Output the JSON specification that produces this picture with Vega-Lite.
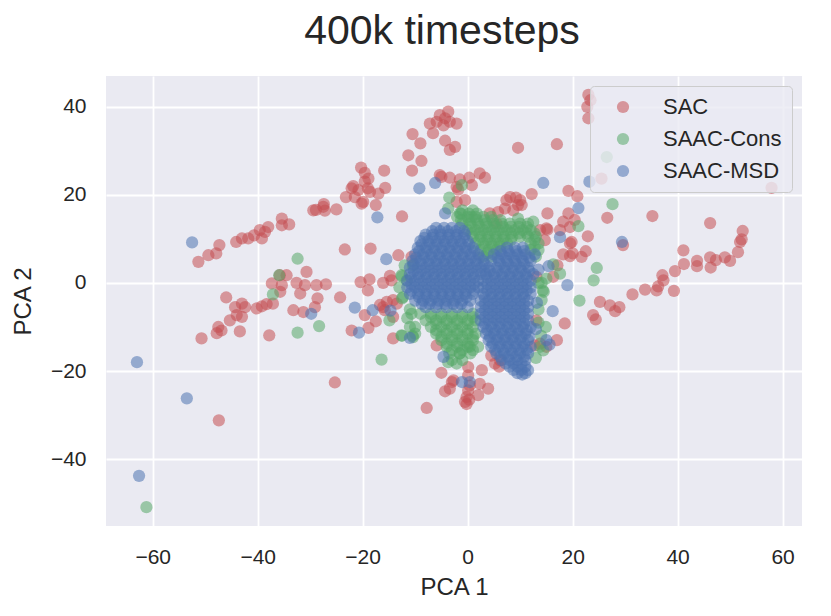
{
"$schema": "https://vega.github.io/schema/vega-lite/v6.json",
"width": 696, "height": 450,
"autosize": {"type": "none"},
"padding": {"left": 106, "top": 76, "right": 29, "bottom": 90},
"background": "white",
"title": {"text": "400k timesteps", "fontSize": 41, "font": "Liberation Sans", "fontWeight": "normal", "color": "#262626", "anchor": "middle", "dx": -12, "offset": 23},
"data": {"values": [
{"g":"SAC","x":-51.3,"y":4.8},{"g":"SAC","x":-49.4,"y":6.3},{"g":"SAC","x":-47.9,"y":6.7},{"g":"SAC","x":-47.3,"y":8.6},{"g":"SAC","x":-44.1,"y":9.3},{"g":"SAC","x":-43.0,"y":10.1},{"g":"SAC","x":-41.8,"y":10.1},{"g":"SAC","x":-40.7,"y":10.8},{"g":"SAC","x":-39.6,"y":12.0},{"g":"SAC","x":-39.2,"y":10.1},{"g":"SAC","x":-38.6,"y":11.6},{"g":"SAC","x":-38.0,"y":12.7},{"g":"SAC","x":-35.4,"y":14.6},{"g":"SAC","x":-35.4,"y":13.1},{"g":"SAC","x":-34.0,"y":13.3},{"g":"SAC","x":-29.4,"y":16.5},{"g":"SAC","x":-27.5,"y":17.3},{"g":"SAC","x":-27.2,"y":16.4},{"g":"SAC","x":-27.4,"y":17.9},{"g":"SAC","x":-25.0,"y":16.7},{"g":"SAC","x":-28.9,"y":16.6},
{"g":"SAC","x":-23.4,"y":7.6},{"g":"SAC","x":-18.5,"y":7.8},{"g":"SAC","x":-20.3,"y":26.2},{"g":"SAC","x":-19.6,"y":25.0},{"g":"SAC","x":-18.9,"y":23.7},{"g":"SAC","x":-15.9,"y":25.5},{"g":"SAC","x":-15.7,"y":21.6},{"g":"SAC","x":-22.1,"y":21.5},{"g":"SAC","x":-20.8,"y":21.1},{"g":"SAC","x":-23.2,"y":19.5},{"g":"SAC","x":-21.5,"y":19.5},{"g":"SAC","x":-19.9,"y":18.4},{"g":"SAC","x":-18.6,"y":20.7},{"g":"SAC","x":-17.0,"y":20.3},{"g":"SAC","x":-17.5,"y":17.7},{"g":"SAC","x":-21.8,"y":22.0},{"g":"SAC","x":-19.6,"y":23.0},{"g":"SAC","x":-20.2,"y":18.0},{"g":"SAC","x":-19.0,"y":21.5},{"g":"SAC","x":-12.5,"y":15.1},
{"g":"SAC","x":-5.3,"y":38.1},{"g":"SAC","x":-3.7,"y":38.9},{"g":"SAC","x":-7.2,"y":36.2},{"g":"SAC","x":-5.9,"y":36.6},{"g":"SAC","x":-4.6,"y":35.8},{"g":"SAC","x":-3.4,"y":36.6},{"g":"SAC","x":-2.1,"y":36.2},{"g":"SAC","x":-4.3,"y":37.4},{"g":"SAC","x":-6.6,"y":34.0},{"g":"SAC","x":-10.5,"y":33.8},{"g":"SAC","x":-9.0,"y":31.7},{"g":"SAC","x":-4.3,"y":32.3},{"g":"SAC","x":-2.4,"y":30.9},{"g":"SAC","x":-3.4,"y":30.2},{"g":"SAC","x":-11.3,"y":29.0},{"g":"SAC","x":-8.8,"y":27.7},{"g":"SAC","x":-10.6,"y":25.5},{"g":"SAC","x":-5.3,"y":24.5},{"g":"SAC","x":-3.4,"y":23.9},{"g":"SAC","x":-1.5,"y":23.5},{"g":"SAC","x":0.3,"y":23.9},{"g":"SAC","x":2.3,"y":24.9},{"g":"SAC","x":3.3,"y":23.9},{"g":"SAC","x":-1.8,"y":21.2},{"g":"SAC","x":0.8,"y":22.2},{"g":"SAC","x":-2.1,"y":18.4},{"g":"SAC","x":-0.5,"y":18.8},{"g":"SAC","x":9.6,"y":30.7},{"g":"SAC","x":17.0,"y":31.5},{"g":"SAC","x":-5.0,"y":24.1},{"g":"SAC","x":-2.1,"y":21.8},
{"g":"SAC","x":23.0,"y":42.7},{"g":"SAC","x":23.4,"y":41.5},{"g":"SAC","x":22.8,"y":40.0},{"g":"SAC","x":23.0,"y":37.4},{"g":"SAC","x":25.5,"y":23.7},{"g":"SAC","x":57.9,"y":21.6},
{"g":"SAC","x":19.2,"y":20.9},{"g":"SAC","x":20.9,"y":19.7},{"g":"SAC","x":12.2,"y":20.2},{"g":"SAC","x":15.2,"y":15.8},{"g":"SAC","x":19.2,"y":15.8},{"g":"SAC","x":20.4,"y":14.3},{"g":"SAC","x":18.2,"y":13.9},{"g":"SAC","x":17.6,"y":12.0},{"g":"SAC","x":19.5,"y":12.7},{"g":"SAC","x":15.2,"y":12.1},{"g":"SAC","x":19.8,"y":9.3},{"g":"SAC","x":22.9,"y":10.6},{"g":"SAC","x":18.2,"y":6.5},{"g":"SAC","x":19.5,"y":6.1},{"g":"SAC","x":21.7,"y":5.9},{"g":"SAC","x":22.5,"y":7.2},{"g":"SAC","x":17.1,"y":4.0},{"g":"SAC","x":26.6,"y":14.8},{"g":"SAC","x":35.2,"y":15.2},{"g":"SAC","x":46.2,"y":13.6},{"g":"SAC","x":15.0,"y":12.4},{"g":"SAC","x":14.7,"y":9.7},{"g":"SAC","x":20.0,"y":6.7},{"g":"SAC","x":19.5,"y":9.0},{"g":"SAC","x":29.6,"y":8.6},{"g":"SAC","x":8.1,"y":19.5},{"g":"SAC","x":9.2,"y":19.4},{"g":"SAC","x":9.6,"y":17.7},{"g":"SAC","x":7.1,"y":16.9},{"g":"SAC","x":8.7,"y":16.5},{"g":"SAC","x":4.2,"y":15.8},{"g":"SAC","x":5.8,"y":16.1},{"g":"SAC","x":10.0,"y":18.8},{"g":"SAC","x":10.3,"y":17.7},{"g":"SAC","x":13.8,"y":12.0},{"g":"SAC","x":5.5,"y":13.5},{"g":"SAC","x":7.4,"y":18.8},{"g":"SAC","x":13.1,"y":1.4},{"g":"SAC","x":16.3,"y":1.4},{"g":"SAC","x":13.1,"y":-8.5},{"g":"SAC","x":13.8,"y":-13.8},
{"g":"SAC","x":52.4,"y":11.8},{"g":"SAC","x":52.2,"y":9.9},{"g":"SAC","x":51.9,"y":9.3},{"g":"SAC","x":51.5,"y":7.0},{"g":"SAC","x":50.0,"y":5.0},{"g":"SAC","x":49.0,"y":5.8},{"g":"SAC","x":47.3,"y":5.2},{"g":"SAC","x":46.3,"y":3.5},{"g":"SAC","x":46.2,"y":5.8},{"g":"SAC","x":43.7,"y":5.0},{"g":"SAC","x":43.7,"y":3.8},{"g":"SAC","x":41.2,"y":4.3},{"g":"SAC","x":41.1,"y":7.4},{"g":"SAC","x":39.5,"y":2.7},{"g":"SAC","x":37.1,"y":1.75},{"g":"SAC","x":37.3,"y":0.6},{"g":"SAC","x":39.3,"y":-1.8},{"g":"SAC","x":36.0,"y":-1.7},{"g":"SAC","x":36.3,"y":-0.8},{"g":"SAC","x":33.8,"y":-1.5},{"g":"SAC","x":31.4,"y":-2.6},{"g":"SAC","x":28.9,"y":-5.5},{"g":"SAC","x":28.1,"y":-6.4},{"g":"SAC","x":27.1,"y":-5.1},{"g":"SAC","x":25.2,"y":-4.3},{"g":"SAC","x":23.9,"y":-7.3},{"g":"SAC","x":24.4,"y":-8.3},{"g":"SAC","x":18.5,"y":-9.2},{"g":"SAC","x":17.0,"y":-13.0},{"g":"SAC","x":15.0,"y":-14.5},{"g":"SAC","x":12.8,"y":-14.2},
{"g":"SAC","x":-35.8,"y":1.75},{"g":"SAC","x":-34.5,"y":1.75},{"g":"SAC","x":-37.3,"y":-0.1},{"g":"SAC","x":-35.4,"y":-0.5},{"g":"SAC","x":-35.7,"y":-2.0},{"g":"SAC","x":-32.6,"y":0.0},{"g":"SAC","x":-31.9,"y":-2.4},{"g":"SAC","x":-30.7,"y":2.5},{"g":"SAC","x":-31.0,"y":-0.5},{"g":"SAC","x":-28.8,"y":-0.5},{"g":"SAC","x":-27.0,"y":-0.3},{"g":"SAC","x":-28.6,"y":-3.5},{"g":"SAC","x":-29.1,"y":-5.5},{"g":"SAC","x":-33.2,"y":-6.2},{"g":"SAC","x":-31.3,"y":-6.6},{"g":"SAC","x":-24.3,"y":-3.3},{"g":"SAC","x":-46.0,"y":-3.3},{"g":"SAC","x":-44.3,"y":-5.5},{"g":"SAC","x":-43.0,"y":-4.7},{"g":"SAC","x":-42.4,"y":-5.5},{"g":"SAC","x":-44.0,"y":-7.3},{"g":"SAC","x":-43.0,"y":-7.7},{"g":"SAC","x":-45.3,"y":-8.5},{"g":"SAC","x":-47.5,"y":-10.0},{"g":"SAC","x":-46.9,"y":-10.8},{"g":"SAC","x":-47.8,"y":-11.4},{"g":"SAC","x":-43.4,"y":-11.0},{"g":"SAC","x":-50.7,"y":-12.6},{"g":"SAC","x":-40.2,"y":-5.8},{"g":"SAC","x":-39.2,"y":-5.3},{"g":"SAC","x":-38.3,"y":-4.8},{"g":"SAC","x":-37.1,"y":-4.7},{"g":"SAC","x":-37.8,"y":-11.9},{"g":"SAC","x":-25.3,"y":-22.6},{"g":"SAC","x":-47.4,"y":-31.2},{"g":"SAC","x":-7.8,"y":-28.4},
{"g":"SAC","x":-20.4,"y":0.2},{"g":"SAC","x":-18.7,"y":0.8},{"g":"SAC","x":-19.0,"y":-1.7},{"g":"SAC","x":-22.1,"y":-10.8},{"g":"SAC","x":-19.6,"y":-7.3},{"g":"SAC","x":-18.9,"y":-10.2},{"g":"SAC","x":-17.5,"y":-8.7},{"g":"SAC","x":-16.7,"y":-5.0},{"g":"SAC","x":-15.4,"y":-4.3},{"g":"SAC","x":-14.2,"y":-3.9},{"g":"SAC","x":-14.8,"y":1.6},{"g":"SAC","x":-14.5,"y":0.6},{"g":"SAC","x":-16.1,"y":0.0},{"g":"SAC","x":-14.2,"y":-12.6},{"g":"SAC","x":-13.2,"y":6.3},{"g":"SAC","x":-10.7,"y":5.9},{"g":"SAC","x":-13.5,"y":-4.7},{"g":"SAC","x":-14.2,"y":-7.7},{"g":"SAC","x":-15.8,"y":-6.2},{"g":"SAC","x":-16.1,"y":-5.5},
{"g":"SAC","x":-5.9,"y":-14.2},{"g":"SAC","x":-5.0,"y":-20.4},{"g":"SAC","x":-4.3,"y":-24.6},{"g":"SAC","x":-3.4,"y":-24.0},{"g":"SAC","x":-3.0,"y":-22.5},{"g":"SAC","x":-0.5,"y":-27.0},{"g":"SAC","x":-0.2,"y":-25.9},{"g":"SAC","x":0.1,"y":-24.4},{"g":"SAC","x":0.4,"y":-23.3},{"g":"SAC","x":2.0,"y":-25.5},{"g":"SAC","x":2.3,"y":-22.9},{"g":"SAC","x":3.9,"y":-24.0},{"g":"SAC","x":0.1,"y":-21.0},{"g":"SAC","x":0.1,"y":-19.1},{"g":"SAC","x":2.7,"y":-19.8},{"g":"SAC","x":5.2,"y":-18.3},{"g":"SAC","x":6.2,"y":-17.6},{"g":"SAC","x":-0.2,"y":-27.5},{"g":"SAC","x":0.3,"y":-26.5},{"g":"SAC","x":-2.7,"y":-22.1},{"g":"SAC","x":4.5,"y":-16.5},{"g":"SAC","x":6.0,"y":-19.0},
{"g":"SAAC-Cons","x":-61.2,"y":-50.9},{"g":"SAAC-Cons","x":-32.4,"y":5.5},{"g":"SAAC-Cons","x":-35.9,"y":1.75},{"g":"SAAC-Cons","x":-37.1,"y":-2.6},{"g":"SAAC-Cons","x":-32.4,"y":-11.3},{"g":"SAAC-Cons","x":-28.3,"y":-9.8},{"g":"SAAC-Cons","x":-16.4,"y":-17.4},{"g":"SAAC-Cons","x":-14.9,"y":-8.5},{"g":"SAAC-Cons","x":-3.5,"y":19.4},{"g":"SAAC-Cons","x":-1.1,"y":22.2},{"g":"SAAC-Cons","x":-3.7,"y":16.9},{"g":"SAAC-Cons","x":-1.5,"y":15.8},{"g":"SAAC-Cons","x":0.8,"y":15.0},{"g":"SAAC-Cons","x":9.6,"y":14.6},{"g":"SAAC-Cons","x":12.5,"y":13.9},{"g":"SAAC-Cons","x":26.5,"y":28.6},{"g":"SAAC-Cons","x":27.6,"y":17.9},{"g":"SAAC-Cons","x":21.1,"y":12.9},{"g":"SAAC-Cons","x":24.6,"y":3.4},{"g":"SAAC-Cons","x":24.0,"y":0.6},{"g":"SAAC-Cons","x":21.3,"y":-4.0},{"g":"SAAC-Cons","x":17.6,"y":2.1},{"g":"SAAC-Cons","x":16.3,"y":4.2},{"g":"SAAC-Cons","x":14.1,"y":0.0},{"g":"SAAC-Cons","x":14.3,"y":-1.7},{"g":"SAAC-Cons","x":14.9,"y":-10.0},{"g":"SAAC-Cons","x":14.4,"y":-15.3},{"g":"SAAC-Cons","x":13.8,"y":-14.5},{"g":"SAAC-Cons","x":15.0,"y":1.0},{"g":"SAAC-Cons","x":14.1,"y":-3.9},{"g":"SAAC-Cons","x":-12.6,"y":1.75},{"g":"SAAC-Cons","x":-10.4,"y":4.0},{"g":"SAAC-Cons","x":-11.6,"y":0.6},{"g":"SAAC-Cons","x":-12.3,"y":-3.2},{"g":"SAAC-Cons","x":-10.7,"y":-7.0},{"g":"SAAC-Cons","x":-11.0,"y":-10.0},{"g":"SAAC-Cons","x":-10.0,"y":-11.5},{"g":"SAAC-Cons","x":-10.4,"y":-12.3},{"g":"SAAC-Cons","x":-12.6,"y":-11.9},{"g":"SAAC-Cons","x":-3.7,"y":-18.0},{"g":"SAAC-Cons","x":-2.1,"y":-18.3},{"g":"SAAC-Cons","x":-1.5,"y":-16.0},{"g":"SAAC-Cons","x":0.4,"y":-14.5},
{"g":"SAAC-Cons","x":-1,"y":16.5},{"g":"SAAC-Cons","x":1,"y":16.5},{"g":"SAAC-Cons","x":-2,"y":15},{"g":"SAAC-Cons","x":0,"y":15},{"g":"SAAC-Cons","x":1.5,"y":15},{"g":"SAAC-Cons","x":3,"y":15},{"g":"SAAC-Cons","x":4.5,"y":15},{"g":"SAAC-Cons","x":-1,"y":13.5},{"g":"SAAC-Cons","x":0.5,"y":13.5},{"g":"SAAC-Cons","x":2,"y":13.5},{"g":"SAAC-Cons","x":3.5,"y":13.5},{"g":"SAAC-Cons","x":5,"y":13.5},{"g":"SAAC-Cons","x":6.5,"y":13.5},{"g":"SAAC-Cons","x":8,"y":13.5},{"g":"SAAC-Cons","x":10,"y":13.5},{"g":"SAAC-Cons","x":11.5,"y":13.5},
{"g":"SAAC-Cons","x":0,"y":12},{"g":"SAAC-Cons","x":1.5,"y":12},{"g":"SAAC-Cons","x":3,"y":12},{"g":"SAAC-Cons","x":4.5,"y":12},{"g":"SAAC-Cons","x":6,"y":12},{"g":"SAAC-Cons","x":7.5,"y":12},{"g":"SAAC-Cons","x":9,"y":12},{"g":"SAAC-Cons","x":10.5,"y":12},{"g":"SAAC-Cons","x":12,"y":12},{"g":"SAAC-Cons","x":1,"y":10.5},{"g":"SAAC-Cons","x":2.5,"y":10.5},{"g":"SAAC-Cons","x":4,"y":10.5},{"g":"SAAC-Cons","x":5.5,"y":10.5},{"g":"SAAC-Cons","x":7,"y":10.5},{"g":"SAAC-Cons","x":8.5,"y":10.5},{"g":"SAAC-Cons","x":10,"y":10.5},{"g":"SAAC-Cons","x":11.5,"y":10.5},{"g":"SAAC-Cons","x":13,"y":10.5},
{"g":"SAAC-Cons","x":1.5,"y":9},{"g":"SAAC-Cons","x":3,"y":9},{"g":"SAAC-Cons","x":4.5,"y":9},{"g":"SAAC-Cons","x":6,"y":9},{"g":"SAAC-Cons","x":7.5,"y":9},{"g":"SAAC-Cons","x":12,"y":9},{"g":"SAAC-Cons","x":13.5,"y":9},{"g":"SAAC-Cons","x":2.5,"y":7.5},{"g":"SAAC-Cons","x":4,"y":7.5},{"g":"SAAC-Cons","x":5.5,"y":7.5},{"g":"SAAC-Cons","x":12,"y":7.5},{"g":"SAAC-Cons","x":13.5,"y":7.5},{"g":"SAAC-Cons","x":3,"y":6},{"g":"SAAC-Cons","x":4.5,"y":6},{"g":"SAAC-Cons","x":13,"y":6},
{"g":"SAAC-Cons","x":-1.25,"y":15.75},{"g":"SAAC-Cons","x":0.25,"y":15.75},{"g":"SAAC-Cons","x":1.75,"y":15.75},{"g":"SAAC-Cons","x":-1.25,"y":14.25},{"g":"SAAC-Cons","x":0.25,"y":14.25},{"g":"SAAC-Cons","x":1.75,"y":14.25},{"g":"SAAC-Cons","x":3.25,"y":14.25},{"g":"SAAC-Cons","x":4.75,"y":14.25},{"g":"SAAC-Cons","x":6.25,"y":14.25},
{"g":"SAAC-Cons","x":0.75,"y":12.75},{"g":"SAAC-Cons","x":2.25,"y":12.75},{"g":"SAAC-Cons","x":3.75,"y":12.75},{"g":"SAAC-Cons","x":5.25,"y":12.75},{"g":"SAAC-Cons","x":6.75,"y":12.75},{"g":"SAAC-Cons","x":8.25,"y":12.75},{"g":"SAAC-Cons","x":9.75,"y":12.75},{"g":"SAAC-Cons","x":11.25,"y":12.75},
{"g":"SAAC-Cons","x":0.75,"y":11.25},{"g":"SAAC-Cons","x":2.25,"y":11.25},{"g":"SAAC-Cons","x":3.75,"y":11.25},{"g":"SAAC-Cons","x":5.25,"y":11.25},{"g":"SAAC-Cons","x":6.75,"y":11.25},{"g":"SAAC-Cons","x":8.25,"y":11.25},{"g":"SAAC-Cons","x":9.75,"y":11.25},{"g":"SAAC-Cons","x":11.25,"y":11.25},{"g":"SAAC-Cons","x":12.75,"y":11.25},
{"g":"SAAC-Cons","x":2.25,"y":9.75},{"g":"SAAC-Cons","x":3.75,"y":9.75},{"g":"SAAC-Cons","x":5.25,"y":9.75},{"g":"SAAC-Cons","x":6.75,"y":9.75},{"g":"SAAC-Cons","x":8.25,"y":9.75},{"g":"SAAC-Cons","x":12.75,"y":9.75},{"g":"SAAC-Cons","x":3.25,"y":8.25},{"g":"SAAC-Cons","x":4.75,"y":8.25},{"g":"SAAC-Cons","x":6.25,"y":8.25},{"g":"SAAC-Cons","x":12.75,"y":8.25},{"g":"SAAC-Cons","x":3.75,"y":6.75},
{"g":"SAAC-Cons","x":-12.5,"y":1.5},{"g":"SAAC-Cons","x":-12,"y":4},{"g":"SAAC-Cons","x":-13,"y":-1},{"g":"SAAC-Cons","x":-12.5,"y":-3.5},{"g":"SAAC-Cons","x":-11,"y":-6},{"g":"SAAC-Cons","x":-11.5,"y":-8},{"g":"SAAC-Cons","x":-10,"y":-10},{"g":"SAAC-Cons","x":-10.5,"y":-12},{"g":"SAAC-Cons","x":-12.5,"y":-12},
{"g":"SAAC-Cons","x":-9,"y":-7},{"g":"SAAC-Cons","x":-7,"y":-7},{"g":"SAAC-Cons","x":-5,"y":-7},{"g":"SAAC-Cons","x":-3,"y":-7},{"g":"SAAC-Cons","x":-1,"y":-7},{"g":"SAAC-Cons","x":1,"y":-7},{"g":"SAAC-Cons","x":-8,"y":-8.5},{"g":"SAAC-Cons","x":-6,"y":-8.5},{"g":"SAAC-Cons","x":-4,"y":-8.5},{"g":"SAAC-Cons","x":-2,"y":-8.5},{"g":"SAAC-Cons","x":0,"y":-8.5},{"g":"SAAC-Cons","x":1.5,"y":-8.5},{"g":"SAAC-Cons","x":-7,"y":-10},{"g":"SAAC-Cons","x":-5,"y":-10},{"g":"SAAC-Cons","x":-3,"y":-10},{"g":"SAAC-Cons","x":-1,"y":-10},{"g":"SAAC-Cons","x":1,"y":-10},{"g":"SAAC-Cons","x":-6,"y":-11.5},{"g":"SAAC-Cons","x":-4,"y":-11.5},{"g":"SAAC-Cons","x":-2,"y":-11.5},{"g":"SAAC-Cons","x":0,"y":-11.5},{"g":"SAAC-Cons","x":1.5,"y":-11.5},{"g":"SAAC-Cons","x":-5,"y":-13},{"g":"SAAC-Cons","x":-3,"y":-13},{"g":"SAAC-Cons","x":-1,"y":-13},{"g":"SAAC-Cons","x":1,"y":-13},{"g":"SAAC-Cons","x":-4,"y":-14.5},{"g":"SAAC-Cons","x":-2,"y":-14.5},{"g":"SAAC-Cons","x":0,"y":-14.5},{"g":"SAAC-Cons","x":2,"y":-14.5},{"g":"SAAC-Cons","x":-3.5,"y":-16},{"g":"SAAC-Cons","x":-1.5,"y":-16},{"g":"SAAC-Cons","x":0.5,"y":-16},{"g":"SAAC-Cons","x":-3,"y":-17.5},{"g":"SAAC-Cons","x":-1,"y":-17.5},
{"g":"SAAC-Cons","x":-7,"y":-7.75},{"g":"SAAC-Cons","x":-5,"y":-7.75},{"g":"SAAC-Cons","x":-3,"y":-7.75},{"g":"SAAC-Cons","x":-1,"y":-7.75},{"g":"SAAC-Cons","x":1,"y":-7.75},{"g":"SAAC-Cons","x":-6,"y":-9.25},{"g":"SAAC-Cons","x":-4,"y":-9.25},{"g":"SAAC-Cons","x":-2,"y":-9.25},{"g":"SAAC-Cons","x":0,"y":-9.25},{"g":"SAAC-Cons","x":-6,"y":-10.75},{"g":"SAAC-Cons","x":-4,"y":-10.75},{"g":"SAAC-Cons","x":-2,"y":-10.75},{"g":"SAAC-Cons","x":0,"y":-10.75},{"g":"SAAC-Cons","x":-5,"y":-12.25},{"g":"SAAC-Cons","x":-3,"y":-12.25},{"g":"SAAC-Cons","x":-1,"y":-12.25},{"g":"SAAC-Cons","x":1,"y":-12.25},{"g":"SAAC-Cons","x":-4,"y":-13.75},{"g":"SAAC-Cons","x":-2,"y":-13.75},{"g":"SAAC-Cons","x":0,"y":-13.75},{"g":"SAAC-Cons","x":-3,"y":-15.25},{"g":"SAAC-Cons","x":-1,"y":-15.25},{"g":"SAAC-Cons","x":1,"y":-15.25},
{"g":"SAAC-Cons","x":13.5,"y":-6},{"g":"SAAC-Cons","x":13.5,"y":-9},{"g":"SAAC-Cons","x":14,"y":-12},{"g":"SAAC-Cons","x":13,"y":-17},{"g":"SAAC-Cons","x":13.5,"y":0},{"g":"SAAC-Cons","x":14.5,"y":-2},
{"g":"SAAC-MSD","x":-63.0,"y":-18.0},{"g":"SAAC-MSD","x":-53.5,"y":-26.2},{"g":"SAAC-MSD","x":-62.6,"y":-43.8},{"g":"SAAC-MSD","x":-52.5,"y":9.2},{"g":"SAAC-MSD","x":-29.8,"y":-7.0},{"g":"SAAC-MSD","x":-21.5,"y":-5.6},{"g":"SAAC-MSD","x":-18.1,"y":-6.2},{"g":"SAAC-MSD","x":-14.7,"y":-6.3},{"g":"SAAC-MSD","x":-20.7,"y":-11.3},{"g":"SAAC-MSD","x":-17.2,"y":14.9},{"g":"SAAC-MSD","x":-15.5,"y":5.4},{"g":"SAAC-MSD","x":-9.2,"y":21.5},{"g":"SAAC-MSD","x":-6.2,"y":22.7},{"g":"SAAC-MSD","x":14.4,"y":22.7},{"g":"SAAC-MSD","x":-4.3,"y":15.8},{"g":"SAAC-MSD","x":23.2,"y":23.0},{"g":"SAAC-MSD","x":21.1,"y":17.0},{"g":"SAAC-MSD","x":29.4,"y":9.3},{"g":"SAAC-MSD","x":17.6,"y":10.4},{"g":"SAAC-MSD","x":15.4,"y":3.8},{"g":"SAAC-MSD","x":19.0,"y":-0.5},{"g":"SAAC-MSD","x":16.2,"y":-6.4},{"g":"SAAC-MSD","x":15.0,"y":-13.0},{"g":"SAAC-MSD","x":15.6,"y":-14.0},{"g":"SAAC-MSD","x":-11.0,"y":-12.5},{"g":"SAAC-MSD","x":-4.6,"y":-16.8},{"g":"SAAC-MSD","x":-1.1,"y":-22.5},{"g":"SAAC-MSD","x":0.4,"y":-22.5},{"g":"SAAC-MSD","x":10.4,"y":-20.8},{"g":"SAAC-MSD","x":11.5,"y":-19.8},{"g":"SAAC-MSD","x":13.0,"y":-10.5},{"g":"SAAC-MSD","x":13.2,"y":-4.5},{"g":"SAAC-MSD","x":13.5,"y":3},{"g":"SAAC-MSD","x":12.8,"y":6.5},
{"g":"SAAC-MSD","x":-6,"y":12.5},{"g":"SAAC-MSD","x":-4.5,"y":12.5},{"g":"SAAC-MSD","x":-3,"y":12.5},{"g":"SAAC-MSD","x":-1.5,"y":12.5},
{"g":"SAAC-MSD","x":-8,"y":11},{"g":"SAAC-MSD","x":-6.5,"y":11},{"g":"SAAC-MSD","x":-5,"y":11},{"g":"SAAC-MSD","x":-3.5,"y":11},{"g":"SAAC-MSD","x":-2,"y":11},{"g":"SAAC-MSD","x":-0.5,"y":11},
{"g":"SAAC-MSD","x":-9,"y":9.5},{"g":"SAAC-MSD","x":-7.5,"y":9.5},{"g":"SAAC-MSD","x":-6,"y":9.5},{"g":"SAAC-MSD","x":-4.5,"y":9.5},{"g":"SAAC-MSD","x":-3,"y":9.5},{"g":"SAAC-MSD","x":-1.5,"y":9.5},{"g":"SAAC-MSD","x":0,"y":9.5},
{"g":"SAAC-MSD","x":-9.5,"y":8},{"g":"SAAC-MSD","x":-8,"y":8},{"g":"SAAC-MSD","x":-6.5,"y":8},{"g":"SAAC-MSD","x":-5,"y":8},{"g":"SAAC-MSD","x":-3.5,"y":8},{"g":"SAAC-MSD","x":-2,"y":8},{"g":"SAAC-MSD","x":-0.5,"y":8},{"g":"SAAC-MSD","x":1,"y":8},
{"g":"SAAC-MSD","x":-10,"y":6.5},{"g":"SAAC-MSD","x":-8.5,"y":6.5},{"g":"SAAC-MSD","x":-7,"y":6.5},{"g":"SAAC-MSD","x":-5.5,"y":6.5},{"g":"SAAC-MSD","x":-4,"y":6.5},{"g":"SAAC-MSD","x":-2.5,"y":6.5},{"g":"SAAC-MSD","x":-1,"y":6.5},{"g":"SAAC-MSD","x":0.5,"y":6.5},{"g":"SAAC-MSD","x":2,"y":6.5},
{"g":"SAAC-MSD","x":-10.5,"y":5},{"g":"SAAC-MSD","x":-9,"y":5},{"g":"SAAC-MSD","x":-7.5,"y":5},{"g":"SAAC-MSD","x":-6,"y":5},{"g":"SAAC-MSD","x":-4.5,"y":5},{"g":"SAAC-MSD","x":-3,"y":5},{"g":"SAAC-MSD","x":-1.5,"y":5},{"g":"SAAC-MSD","x":0,"y":5},{"g":"SAAC-MSD","x":1.5,"y":5},{"g":"SAAC-MSD","x":3,"y":5},{"g":"SAAC-MSD","x":4.5,"y":5},
{"g":"SAAC-MSD","x":-11,"y":3.5},{"g":"SAAC-MSD","x":-9.5,"y":3.5},{"g":"SAAC-MSD","x":-8,"y":3.5},{"g":"SAAC-MSD","x":-6.5,"y":3.5},{"g":"SAAC-MSD","x":-5,"y":3.5},{"g":"SAAC-MSD","x":-3.5,"y":3.5},{"g":"SAAC-MSD","x":-2,"y":3.5},{"g":"SAAC-MSD","x":-0.5,"y":3.5},{"g":"SAAC-MSD","x":1,"y":3.5},{"g":"SAAC-MSD","x":2.5,"y":3.5},{"g":"SAAC-MSD","x":4,"y":3.5},
{"g":"SAAC-MSD","x":-11,"y":2},{"g":"SAAC-MSD","x":-9.5,"y":2},{"g":"SAAC-MSD","x":-8,"y":2},{"g":"SAAC-MSD","x":-6.5,"y":2},{"g":"SAAC-MSD","x":-5,"y":2},{"g":"SAAC-MSD","x":-3.5,"y":2},{"g":"SAAC-MSD","x":-2,"y":2},{"g":"SAAC-MSD","x":-0.5,"y":2},{"g":"SAAC-MSD","x":1,"y":2},{"g":"SAAC-MSD","x":2.5,"y":2},
{"g":"SAAC-MSD","x":-11.5,"y":0.5},{"g":"SAAC-MSD","x":-10,"y":0.5},{"g":"SAAC-MSD","x":-8.5,"y":0.5},{"g":"SAAC-MSD","x":-7,"y":0.5},{"g":"SAAC-MSD","x":-5.5,"y":0.5},{"g":"SAAC-MSD","x":-4,"y":0.5},{"g":"SAAC-MSD","x":-2.5,"y":0.5},{"g":"SAAC-MSD","x":-1,"y":0.5},{"g":"SAAC-MSD","x":0.5,"y":0.5},{"g":"SAAC-MSD","x":2,"y":0.5},
{"g":"SAAC-MSD","x":-11.5,"y":-1},{"g":"SAAC-MSD","x":-10,"y":-1},{"g":"SAAC-MSD","x":-8.5,"y":-1},{"g":"SAAC-MSD","x":-7,"y":-1},{"g":"SAAC-MSD","x":-5.5,"y":-1},{"g":"SAAC-MSD","x":-4,"y":-1},{"g":"SAAC-MSD","x":-2.5,"y":-1},{"g":"SAAC-MSD","x":-1,"y":-1},{"g":"SAAC-MSD","x":0.5,"y":-1},{"g":"SAAC-MSD","x":2,"y":-1},
{"g":"SAAC-MSD","x":-11,"y":-2.5},{"g":"SAAC-MSD","x":-9.5,"y":-2.5},{"g":"SAAC-MSD","x":-8,"y":-2.5},{"g":"SAAC-MSD","x":-6.5,"y":-2.5},{"g":"SAAC-MSD","x":-5,"y":-2.5},{"g":"SAAC-MSD","x":-3.5,"y":-2.5},{"g":"SAAC-MSD","x":-2,"y":-2.5},{"g":"SAAC-MSD","x":-0.5,"y":-2.5},{"g":"SAAC-MSD","x":1,"y":-2.5},
{"g":"SAAC-MSD","x":-10,"y":-4},{"g":"SAAC-MSD","x":-8.5,"y":-4},{"g":"SAAC-MSD","x":-7,"y":-4},{"g":"SAAC-MSD","x":-5.5,"y":-4},{"g":"SAAC-MSD","x":-4,"y":-4},{"g":"SAAC-MSD","x":-2.5,"y":-4},{"g":"SAAC-MSD","x":-1,"y":-4},{"g":"SAAC-MSD","x":0.5,"y":-4},
{"g":"SAAC-MSD","x":-8,"y":-5.5},{"g":"SAAC-MSD","x":-6,"y":-5.5},{"g":"SAAC-MSD","x":-4,"y":-5.5},{"g":"SAAC-MSD","x":-2,"y":-5.5},{"g":"SAAC-MSD","x":0,"y":-5.5},
{"g":"SAAC-MSD","x":-6.75,"y":11.75},{"g":"SAAC-MSD","x":-5.25,"y":11.75},{"g":"SAAC-MSD","x":-3.75,"y":11.75},{"g":"SAAC-MSD","x":-2.25,"y":11.75},{"g":"SAAC-MSD","x":-0.75,"y":11.75},
{"g":"SAAC-MSD","x":-8.25,"y":10.25},{"g":"SAAC-MSD","x":-6.75,"y":10.25},{"g":"SAAC-MSD","x":-5.25,"y":10.25},{"g":"SAAC-MSD","x":-3.75,"y":10.25},{"g":"SAAC-MSD","x":-2.25,"y":10.25},{"g":"SAAC-MSD","x":-0.75,"y":10.25},
{"g":"SAAC-MSD","x":-8.75,"y":8.75},{"g":"SAAC-MSD","x":-7.25,"y":8.75},{"g":"SAAC-MSD","x":-5.75,"y":8.75},{"g":"SAAC-MSD","x":-4.25,"y":8.75},{"g":"SAAC-MSD","x":-2.75,"y":8.75},{"g":"SAAC-MSD","x":-1.25,"y":8.75},{"g":"SAAC-MSD","x":0.25,"y":8.75},
{"g":"SAAC-MSD","x":-9.25,"y":7.25},{"g":"SAAC-MSD","x":-7.75,"y":7.25},{"g":"SAAC-MSD","x":-6.25,"y":7.25},{"g":"SAAC-MSD","x":-4.75,"y":7.25},{"g":"SAAC-MSD","x":-3.25,"y":7.25},{"g":"SAAC-MSD","x":-1.75,"y":7.25},{"g":"SAAC-MSD","x":-0.25,"y":7.25},{"g":"SAAC-MSD","x":1.25,"y":7.25},
{"g":"SAAC-MSD","x":-9.75,"y":5.75},{"g":"SAAC-MSD","x":-8.25,"y":5.75},{"g":"SAAC-MSD","x":-6.75,"y":5.75},{"g":"SAAC-MSD","x":-5.25,"y":5.75},{"g":"SAAC-MSD","x":-3.75,"y":5.75},{"g":"SAAC-MSD","x":-2.25,"y":5.75},{"g":"SAAC-MSD","x":-0.75,"y":5.75},{"g":"SAAC-MSD","x":0.75,"y":5.75},{"g":"SAAC-MSD","x":2.25,"y":5.75},
{"g":"SAAC-MSD","x":-10.25,"y":4.25},{"g":"SAAC-MSD","x":-8.75,"y":4.25},{"g":"SAAC-MSD","x":-7.25,"y":4.25},{"g":"SAAC-MSD","x":-5.75,"y":4.25},{"g":"SAAC-MSD","x":-4.25,"y":4.25},{"g":"SAAC-MSD","x":-2.75,"y":4.25},{"g":"SAAC-MSD","x":-1.25,"y":4.25},{"g":"SAAC-MSD","x":0.25,"y":4.25},{"g":"SAAC-MSD","x":1.75,"y":4.25},{"g":"SAAC-MSD","x":3.25,"y":4.25},
{"g":"SAAC-MSD","x":-10.25,"y":2.75},{"g":"SAAC-MSD","x":-8.75,"y":2.75},{"g":"SAAC-MSD","x":-7.25,"y":2.75},{"g":"SAAC-MSD","x":-5.75,"y":2.75},{"g":"SAAC-MSD","x":-4.25,"y":2.75},{"g":"SAAC-MSD","x":-2.75,"y":2.75},{"g":"SAAC-MSD","x":-1.25,"y":2.75},{"g":"SAAC-MSD","x":0.25,"y":2.75},{"g":"SAAC-MSD","x":1.75,"y":2.75},{"g":"SAAC-MSD","x":3.25,"y":2.75},
{"g":"SAAC-MSD","x":-10.75,"y":1.25},{"g":"SAAC-MSD","x":-9.25,"y":1.25},{"g":"SAAC-MSD","x":-7.75,"y":1.25},{"g":"SAAC-MSD","x":-6.25,"y":1.25},{"g":"SAAC-MSD","x":-4.75,"y":1.25},{"g":"SAAC-MSD","x":-3.25,"y":1.25},{"g":"SAAC-MSD","x":-1.75,"y":1.25},{"g":"SAAC-MSD","x":-0.25,"y":1.25},{"g":"SAAC-MSD","x":1.25,"y":1.25},
{"g":"SAAC-MSD","x":-10.75,"y":-0.25},{"g":"SAAC-MSD","x":-9.25,"y":-0.25},{"g":"SAAC-MSD","x":-7.75,"y":-0.25},{"g":"SAAC-MSD","x":-6.25,"y":-0.25},{"g":"SAAC-MSD","x":-4.75,"y":-0.25},{"g":"SAAC-MSD","x":-3.25,"y":-0.25},{"g":"SAAC-MSD","x":-1.75,"y":-0.25},{"g":"SAAC-MSD","x":-0.25,"y":-0.25},{"g":"SAAC-MSD","x":1.25,"y":-0.25},
{"g":"SAAC-MSD","x":-10.75,"y":-1.75},{"g":"SAAC-MSD","x":-9.25,"y":-1.75},{"g":"SAAC-MSD","x":-7.75,"y":-1.75},{"g":"SAAC-MSD","x":-6.25,"y":-1.75},{"g":"SAAC-MSD","x":-4.75,"y":-1.75},{"g":"SAAC-MSD","x":-3.25,"y":-1.75},{"g":"SAAC-MSD","x":-1.75,"y":-1.75},{"g":"SAAC-MSD","x":-0.25,"y":-1.75},{"g":"SAAC-MSD","x":1.25,"y":-1.75},
{"g":"SAAC-MSD","x":-9.25,"y":-3.25},{"g":"SAAC-MSD","x":-7.75,"y":-3.25},{"g":"SAAC-MSD","x":-6.25,"y":-3.25},{"g":"SAAC-MSD","x":-4.75,"y":-3.25},{"g":"SAAC-MSD","x":-3.25,"y":-3.25},{"g":"SAAC-MSD","x":-1.75,"y":-3.25},{"g":"SAAC-MSD","x":-0.25,"y":-3.25},
{"g":"SAAC-MSD","x":-8.75,"y":-4.75},{"g":"SAAC-MSD","x":-7.25,"y":-4.75},{"g":"SAAC-MSD","x":-5.75,"y":-4.75},{"g":"SAAC-MSD","x":-4.25,"y":-4.75},{"g":"SAAC-MSD","x":-2.75,"y":-4.75},{"g":"SAAC-MSD","x":-1.25,"y":-4.75},
{"g":"SAAC-MSD","x":7.5,"y":8},{"g":"SAAC-MSD","x":9,"y":8},{"g":"SAAC-MSD","x":10.5,"y":8},
{"g":"SAAC-MSD","x":5,"y":6.5},{"g":"SAAC-MSD","x":6.5,"y":6.5},{"g":"SAAC-MSD","x":8,"y":6.5},{"g":"SAAC-MSD","x":9.5,"y":6.5},{"g":"SAAC-MSD","x":11,"y":6.5},
{"g":"SAAC-MSD","x":6,"y":5},{"g":"SAAC-MSD","x":7.5,"y":5},{"g":"SAAC-MSD","x":9,"y":5},{"g":"SAAC-MSD","x":10.5,"y":5},{"g":"SAAC-MSD","x":12,"y":5},
{"g":"SAAC-MSD","x":5.5,"y":3.5},{"g":"SAAC-MSD","x":7,"y":3.5},{"g":"SAAC-MSD","x":8.5,"y":3.5},{"g":"SAAC-MSD","x":10,"y":3.5},{"g":"SAAC-MSD","x":11.5,"y":3.5},
{"g":"SAAC-MSD","x":3.5,"y":2},{"g":"SAAC-MSD","x":5,"y":2},{"g":"SAAC-MSD","x":6.5,"y":2},{"g":"SAAC-MSD","x":8,"y":2},{"g":"SAAC-MSD","x":9.5,"y":2},{"g":"SAAC-MSD","x":11,"y":2},{"g":"SAAC-MSD","x":12.5,"y":2},
{"g":"SAAC-MSD","x":3,"y":0.5},{"g":"SAAC-MSD","x":4.5,"y":0.5},{"g":"SAAC-MSD","x":6,"y":0.5},{"g":"SAAC-MSD","x":7.5,"y":0.5},{"g":"SAAC-MSD","x":9,"y":0.5},{"g":"SAAC-MSD","x":10.5,"y":0.5},{"g":"SAAC-MSD","x":12,"y":0.5},
{"g":"SAAC-MSD","x":3,"y":-1},{"g":"SAAC-MSD","x":4.5,"y":-1},{"g":"SAAC-MSD","x":6,"y":-1},{"g":"SAAC-MSD","x":7.5,"y":-1},{"g":"SAAC-MSD","x":9,"y":-1},{"g":"SAAC-MSD","x":10.5,"y":-1},{"g":"SAAC-MSD","x":12,"y":-1},
{"g":"SAAC-MSD","x":3,"y":-2.5},{"g":"SAAC-MSD","x":4.5,"y":-2.5},{"g":"SAAC-MSD","x":6,"y":-2.5},{"g":"SAAC-MSD","x":7.5,"y":-2.5},{"g":"SAAC-MSD","x":9,"y":-2.5},{"g":"SAAC-MSD","x":10.5,"y":-2.5},{"g":"SAAC-MSD","x":12,"y":-2.5},
{"g":"SAAC-MSD","x":2.5,"y":-4},{"g":"SAAC-MSD","x":4,"y":-4},{"g":"SAAC-MSD","x":5.5,"y":-4},{"g":"SAAC-MSD","x":7,"y":-4},{"g":"SAAC-MSD","x":8.5,"y":-4},{"g":"SAAC-MSD","x":10,"y":-4},{"g":"SAAC-MSD","x":11.5,"y":-4},
{"g":"SAAC-MSD","x":2.5,"y":-5.5},{"g":"SAAC-MSD","x":4,"y":-5.5},{"g":"SAAC-MSD","x":5.5,"y":-5.5},{"g":"SAAC-MSD","x":7,"y":-5.5},{"g":"SAAC-MSD","x":8.5,"y":-5.5},{"g":"SAAC-MSD","x":10,"y":-5.5},{"g":"SAAC-MSD","x":11.5,"y":-5.5},
{"g":"SAAC-MSD","x":2.5,"y":-7},{"g":"SAAC-MSD","x":4,"y":-7},{"g":"SAAC-MSD","x":5.5,"y":-7},{"g":"SAAC-MSD","x":7,"y":-7},{"g":"SAAC-MSD","x":8.5,"y":-7},{"g":"SAAC-MSD","x":10,"y":-7},{"g":"SAAC-MSD","x":11.5,"y":-7},
{"g":"SAAC-MSD","x":2.5,"y":-8.5},{"g":"SAAC-MSD","x":4,"y":-8.5},{"g":"SAAC-MSD","x":5.5,"y":-8.5},{"g":"SAAC-MSD","x":7,"y":-8.5},{"g":"SAAC-MSD","x":8.5,"y":-8.5},{"g":"SAAC-MSD","x":10,"y":-8.5},{"g":"SAAC-MSD","x":11.5,"y":-8.5},
{"g":"SAAC-MSD","x":3,"y":-10},{"g":"SAAC-MSD","x":4.5,"y":-10},{"g":"SAAC-MSD","x":6,"y":-10},{"g":"SAAC-MSD","x":7.5,"y":-10},{"g":"SAAC-MSD","x":9,"y":-10},{"g":"SAAC-MSD","x":10.5,"y":-10},{"g":"SAAC-MSD","x":12,"y":-10},
{"g":"SAAC-MSD","x":3.5,"y":-11.5},{"g":"SAAC-MSD","x":5,"y":-11.5},{"g":"SAAC-MSD","x":6.5,"y":-11.5},{"g":"SAAC-MSD","x":8,"y":-11.5},{"g":"SAAC-MSD","x":9.5,"y":-11.5},{"g":"SAAC-MSD","x":11,"y":-11.5},
{"g":"SAAC-MSD","x":4,"y":-13},{"g":"SAAC-MSD","x":5.5,"y":-13},{"g":"SAAC-MSD","x":7,"y":-13},{"g":"SAAC-MSD","x":8.5,"y":-13},{"g":"SAAC-MSD","x":10,"y":-13},{"g":"SAAC-MSD","x":11.5,"y":-13},
{"g":"SAAC-MSD","x":4.5,"y":-14.5},{"g":"SAAC-MSD","x":6,"y":-14.5},{"g":"SAAC-MSD","x":7.5,"y":-14.5},{"g":"SAAC-MSD","x":9,"y":-14.5},{"g":"SAAC-MSD","x":10.5,"y":-14.5},{"g":"SAAC-MSD","x":12,"y":-14.5},
{"g":"SAAC-MSD","x":5.5,"y":-16},{"g":"SAAC-MSD","x":7,"y":-16},{"g":"SAAC-MSD","x":8.5,"y":-16},{"g":"SAAC-MSD","x":10,"y":-16},{"g":"SAAC-MSD","x":11.5,"y":-16},
{"g":"SAAC-MSD","x":6.5,"y":-17.5},{"g":"SAAC-MSD","x":8,"y":-17.5},{"g":"SAAC-MSD","x":9.5,"y":-17.5},{"g":"SAAC-MSD","x":11,"y":-17.5},
{"g":"SAAC-MSD","x":8,"y":-19},{"g":"SAAC-MSD","x":9.5,"y":-19},{"g":"SAAC-MSD","x":11,"y":-19},
{"g":"SAAC-MSD","x":9.5,"y":-20.5},{"g":"SAAC-MSD","x":11,"y":-20.5},
{"g":"SAAC-MSD","x":6.25,"y":7.25},{"g":"SAAC-MSD","x":7.75,"y":7.25},{"g":"SAAC-MSD","x":9.25,"y":7.25},{"g":"SAAC-MSD","x":10.75,"y":7.25},
{"g":"SAAC-MSD","x":5.75,"y":5.75},{"g":"SAAC-MSD","x":7.25,"y":5.75},{"g":"SAAC-MSD","x":8.75,"y":5.75},{"g":"SAAC-MSD","x":10.25,"y":5.75},{"g":"SAAC-MSD","x":11.75,"y":5.75},
{"g":"SAAC-MSD","x":6.25,"y":4.25},{"g":"SAAC-MSD","x":7.75,"y":4.25},{"g":"SAAC-MSD","x":9.25,"y":4.25},{"g":"SAAC-MSD","x":10.75,"y":4.25},
{"g":"SAAC-MSD","x":4.25,"y":2.75},{"g":"SAAC-MSD","x":5.75,"y":2.75},{"g":"SAAC-MSD","x":7.25,"y":2.75},{"g":"SAAC-MSD","x":8.75,"y":2.75},{"g":"SAAC-MSD","x":10.25,"y":2.75},{"g":"SAAC-MSD","x":11.75,"y":2.75},
{"g":"SAAC-MSD","x":3.75,"y":1.25},{"g":"SAAC-MSD","x":5.25,"y":1.25},{"g":"SAAC-MSD","x":6.75,"y":1.25},{"g":"SAAC-MSD","x":8.25,"y":1.25},{"g":"SAAC-MSD","x":9.75,"y":1.25},{"g":"SAAC-MSD","x":11.25,"y":1.25},
{"g":"SAAC-MSD","x":3.75,"y":-0.25},{"g":"SAAC-MSD","x":5.25,"y":-0.25},{"g":"SAAC-MSD","x":6.75,"y":-0.25},{"g":"SAAC-MSD","x":8.25,"y":-0.25},{"g":"SAAC-MSD","x":9.75,"y":-0.25},{"g":"SAAC-MSD","x":11.25,"y":-0.25},
{"g":"SAAC-MSD","x":3.75,"y":-1.75},{"g":"SAAC-MSD","x":5.25,"y":-1.75},{"g":"SAAC-MSD","x":6.75,"y":-1.75},{"g":"SAAC-MSD","x":8.25,"y":-1.75},{"g":"SAAC-MSD","x":9.75,"y":-1.75},{"g":"SAAC-MSD","x":11.25,"y":-1.75},
{"g":"SAAC-MSD","x":3.25,"y":-3.25},{"g":"SAAC-MSD","x":4.75,"y":-3.25},{"g":"SAAC-MSD","x":6.25,"y":-3.25},{"g":"SAAC-MSD","x":7.75,"y":-3.25},{"g":"SAAC-MSD","x":9.25,"y":-3.25},{"g":"SAAC-MSD","x":10.75,"y":-3.25},
{"g":"SAAC-MSD","x":3.25,"y":-4.75},{"g":"SAAC-MSD","x":4.75,"y":-4.75},{"g":"SAAC-MSD","x":6.25,"y":-4.75},{"g":"SAAC-MSD","x":7.75,"y":-4.75},{"g":"SAAC-MSD","x":9.25,"y":-4.75},{"g":"SAAC-MSD","x":10.75,"y":-4.75},
{"g":"SAAC-MSD","x":3.25,"y":-6.25},{"g":"SAAC-MSD","x":4.75,"y":-6.25},{"g":"SAAC-MSD","x":6.25,"y":-6.25},{"g":"SAAC-MSD","x":7.75,"y":-6.25},{"g":"SAAC-MSD","x":9.25,"y":-6.25},{"g":"SAAC-MSD","x":10.75,"y":-6.25},
{"g":"SAAC-MSD","x":3.25,"y":-7.75},{"g":"SAAC-MSD","x":4.75,"y":-7.75},{"g":"SAAC-MSD","x":6.25,"y":-7.75},{"g":"SAAC-MSD","x":7.75,"y":-7.75},{"g":"SAAC-MSD","x":9.25,"y":-7.75},{"g":"SAAC-MSD","x":10.75,"y":-7.75},
{"g":"SAAC-MSD","x":3.25,"y":-9.25},{"g":"SAAC-MSD","x":4.75,"y":-9.25},{"g":"SAAC-MSD","x":6.25,"y":-9.25},{"g":"SAAC-MSD","x":7.75,"y":-9.25},{"g":"SAAC-MSD","x":9.25,"y":-9.25},{"g":"SAAC-MSD","x":10.75,"y":-9.25},
{"g":"SAAC-MSD","x":3.75,"y":-10.75},{"g":"SAAC-MSD","x":5.25,"y":-10.75},{"g":"SAAC-MSD","x":6.75,"y":-10.75},{"g":"SAAC-MSD","x":8.25,"y":-10.75},{"g":"SAAC-MSD","x":9.75,"y":-10.75},{"g":"SAAC-MSD","x":11.25,"y":-10.75},
{"g":"SAAC-MSD","x":4.25,"y":-12.25},{"g":"SAAC-MSD","x":5.75,"y":-12.25},{"g":"SAAC-MSD","x":7.25,"y":-12.25},{"g":"SAAC-MSD","x":8.75,"y":-12.25},{"g":"SAAC-MSD","x":10.25,"y":-12.25},{"g":"SAAC-MSD","x":11.75,"y":-12.25},
{"g":"SAAC-MSD","x":4.75,"y":-13.75},{"g":"SAAC-MSD","x":6.25,"y":-13.75},{"g":"SAAC-MSD","x":7.75,"y":-13.75},{"g":"SAAC-MSD","x":9.25,"y":-13.75},{"g":"SAAC-MSD","x":10.75,"y":-13.75},
{"g":"SAAC-MSD","x":5.25,"y":-15.25},{"g":"SAAC-MSD","x":6.75,"y":-15.25},{"g":"SAAC-MSD","x":8.25,"y":-15.25},{"g":"SAAC-MSD","x":9.75,"y":-15.25},{"g":"SAAC-MSD","x":11.25,"y":-15.25},
{"g":"SAAC-MSD","x":6.25,"y":-16.75},{"g":"SAAC-MSD","x":7.75,"y":-16.75},{"g":"SAAC-MSD","x":9.25,"y":-16.75},{"g":"SAAC-MSD","x":10.75,"y":-16.75},
{"g":"SAAC-MSD","x":7.25,"y":-18.25},{"g":"SAAC-MSD","x":8.75,"y":-18.25},{"g":"SAAC-MSD","x":10.25,"y":-18.25},
{"g":"SAAC-MSD","x":8.75,"y":-19.75},{"g":"SAAC-MSD","x":10.25,"y":-19.75}
]},
"mark": {"type": "circle", "size": 150, "opacity": 0.55, "strokeWidth": 0},
"encoding": {
"x": {"field": "x", "type": "quantitative", "scale": {"domain": [-68.9, 63.7], "nice": false, "zero": false}, "axis": {"title": "PCA 1", "values": [-60, -40, -20, 0, 20, 40, 60], "titlePadding": 8}},
"y": {"field": "y", "type": "quantitative", "scale": {"domain": [-55.2, 47.0], "nice": false, "zero": false}, "axis": {"title": "PCA 2", "values": [-40, -20, 0, 20, 40], "titlePadding": 15}},
"color": {"field": "g", "type": "nominal", "scale": {"domain": ["SAC", "SAAC-Cons", "SAAC-MSD"], "range": ["#C44E52", "#55A868", "#4C72B0"]},
"legend": {"title": null, "orient": "top-right", "offset": 10, "fillColor": "rgba(234,234,242,0.8)", "strokeColor": "#cccccc", "cornerRadius": 4, "padding": 10, "labelFontSize": 22, "labelFont": "Liberation Sans", "labelColor": "#262626", "symbolType": "circle", "symbolSize": 150, "symbolOpacity": 0.55, "symbolStrokeWidth": 0, "symbolOffset": 12, "labelOffset": 29, "rowPadding": 10}}
},
"config": {
"view": {"fill": "#EAEAF2", "stroke": null},
"axis": {"grid": true, "gridColor": "#ffffff", "gridWidth": 1.8, "domain": false, "ticks": false, "tickSize": 0, "labelFont": "Liberation Sans", "labelFontSize": 21, "labelColor": "#262626", "labelPadding": 20, "titleFont": "Liberation Sans", "titleFontSize": 24, "titleFontWeight": "normal", "titleColor": "#262626"}
}
}
